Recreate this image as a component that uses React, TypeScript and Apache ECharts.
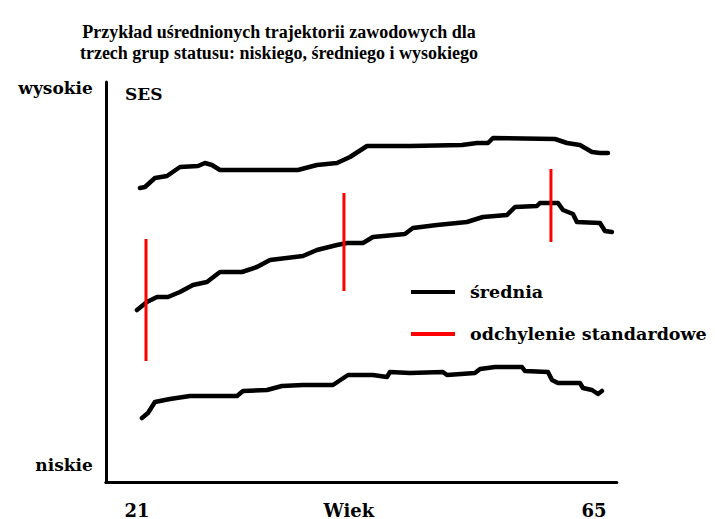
import { useEffect, useRef } from 'react';
import * as echarts from 'echarts';

const titleLines = [
  'Przykład uśrednionych trajektorii zawodowych dla',
  'trzech grup statusu: niskiego, średniego i wysokiego',
];

const ageTickValues = [21, 41.4, 65];
const ageTickLabels = ['21', 'Wiek', '65'];
const sesTickValues = [4.25, 98.5];
const sesTickLabels = ['niskie', 'wysokie'];
const sesAxisName = 'SES';

const meanName = 'średnia';
const sdName = 'odchylenie standardowe';

// high status group
const highAges = [21.29, 21.77, 22.73, 23.89, 25.14, 26.87, 27.55, 28.22, 28.99, 36.5, 38.33, 40.26, 41.51, 43.15, 47.29, 52.29, 53.74, 54.8, 55.28, 61.25, 62.4, 63.65, 64.81, 65.58, 66.35];
const highSES = [73.5, 73.75, 76, 76.5, 78.75, 79, 79.75, 79.25, 78, 78, 79.25, 79.75, 81.25, 84, 84, 84.25, 84.75, 84.75, 86, 85.75, 84.75, 84.25, 82.5, 82.25, 82.25];

// middle status group
const midAges = [21.0, 21.96, 22.93, 23.98, 25.14, 26.39, 27.74, 28.99, 31.11, 32.55, 33.81, 36.98, 38.33, 40.26, 41.22, 42.76, 43.72, 46.8, 47.57, 49.89, 52.77, 54.31, 56.63, 57.4, 59.51, 59.8, 61.54, 62.02, 62.98, 63.36, 65.58, 66.06, 66.73];
const midSES = [43, 45, 46.25, 46.25, 47.5, 49.25, 50, 52.5, 52.5, 53.75, 55.5, 56.5, 58, 59.25, 59.75, 59.75, 61.25, 62, 63.5, 64.25, 65, 66.25, 66.75, 68.75, 69, 69.75, 69.75, 68, 67, 65, 64.75, 62.75, 62.5];

// low status group
const lowAges = [21.48, 22.06, 22.73, 24.18, 26.1, 30.63, 31.21, 33.52, 34.96, 36.98, 39.87, 41.32, 43.72, 45.07, 45.36, 47.29, 50.46, 50.85, 53.54, 54.03, 55.47, 58.07, 58.36, 60.57, 60.96, 61.53, 63.65, 63.94, 64.81, 65.39, 65.77];
const lowSES = [16, 17.25, 20, 20.75, 21.5, 21.5, 22.75, 23, 24, 24.25, 24.25, 26.75, 26.75, 26.25, 27.5, 27.25, 27.5, 26.75, 27.25, 28.25, 28.75, 28.75, 27.75, 27.5, 25.5, 24.75, 24.75, 23.5, 23, 22, 22.75];

// standard deviation bars (middle group)
const sdAges = [21.87, 40.93, 60.86];
const sdLow = [30.25, 47.75, 60];
const sdHigh = [60.75, 72.25, 78.25];

const zip = (a: number[], b: number[]) => a.map((v, i) => [v, b[i]]);

const labelFont = 'DejaVu Serif';

function pickLabel(values: number[], labels: string[], v: number) {
  for (let i = 0; i < values.length; i++) {
    if (Math.abs(values[i] - v) < 1e-6) return labels[i];
  }
  return '';
}

export default function App() {
  const ref = useRef<HTMLDivElement>(null);
  useEffect(() => {
    if (!ref.current) return;
    const chart = echarts.init(ref.current, undefined, { renderer: 'svg' });
    const meanLine = (data: number[][]) => ({
      type: 'line',
      name: meanName,
      data,
      symbol: 'none',
      silent: true,
      itemStyle: { color: '#000' },
      lineStyle: { color: '#000', width: 4.5, cap: 'round', join: 'round' },
      z: 2,
    });
    chart.setOption({
      animation: false,
      backgroundColor: '#fff',
      title: {
        text: titleLines.join('\n'),
        left: 279,
        top: 21,
        padding: 0,
        textAlign: 'center',
        textStyle: {
          fontFamily: 'Liberation Serif',
          fontWeight: 'bold',
          fontSize: 18,
          lineHeight: 21,
          color: '#000',
        },
      },
      legend: {
        orient: 'vertical',
        left: 411,
        top: 282,
        padding: 0,
        itemWidth: 44,
        itemHeight: 4,
        itemGap: 22,
        selectedMode: false,
        data: [
          { name: meanName, icon: 'rect' },
          { name: sdName, icon: 'rect' },
        ],
        textStyle: {
          fontFamily: labelFont,
          fontWeight: 'bold',
          fontSize: 17.5,
          lineHeight: 20,
          color: '#000',
          padding: [0, 0, 0, 10],
        },
      },
      grid: { left: 105.8, right: 98.2, top: 82, bottom: 37, outerBoundsMode: 'none' },
      xAxis: {
        type: 'value',
        min: 18,
        max: 67.2,
        interval: 0.2,
        axisLine: { show: true, lineStyle: { color: '#000', width: 3 } },
        axisTick: { show: false },
        splitLine: { show: false },
        axisLabel: {
          margin: 19,
          fontFamily: labelFont,
          fontWeight: 'bold',
          fontSize: 18,
          color: '#000',
          formatter: (v: number) => pickLabel(ageTickValues, ageTickLabels, v),
        },
      },
      yAxis: {
        type: 'value',
        min: 0,
        max: 100,
        interval: 0.25,
        axisLine: { show: true, lineStyle: { color: '#000', width: 3 } },
        axisTick: { show: false },
        splitLine: { show: false },
        axisLabel: {
          margin: 13,
          fontFamily: labelFont,
          fontWeight: 'bold',
          fontSize: 17,
          color: '#000',
          formatter: (v: number) => pickLabel(sesTickValues, sesTickLabels, v),
        },
      },
      graphic: [
        {
          type: 'text',
          left: 125,
          top: 85,
          style: {
            text: sesAxisName,
            font: `bold 17px "${labelFont}"`,
            fill: '#000',
          },
        },
      ],
      series: [
        meanLine(zip(highAges, highSES)),
        meanLine(zip(midAges, midSES)),
        meanLine(zip(lowAges, lowSES)),
        {
          type: 'custom',
          name: sdName,
          silent: true,
          z: 5,
          itemStyle: { color: '#ff0000' },
          encode: { x: 0, y: [1, 2] },
          data: sdAges.map((a, i) => [a, sdLow[i], sdHigh[i]]),
          renderItem: (_params: any, api: any) => {
            const x = api.value(0);
            const p1 = api.coord([x, api.value(1)]);
            const p2 = api.coord([x, api.value(2)]);
            return {
              type: 'line',
              shape: { x1: p1[0], y1: p1[1], x2: p2[0], y2: p2[1] },
              style: { stroke: '#ff0000', lineWidth: 3 },
            };
          },
        },
      ],
    });
    return () => chart.dispose();
  }, []);
  return (
    <div
      ref={ref}
      style={{ position: 'fixed', left: 0, top: 0, width: 715, height: 519, background: '#fff' }}
    />
  );
}
